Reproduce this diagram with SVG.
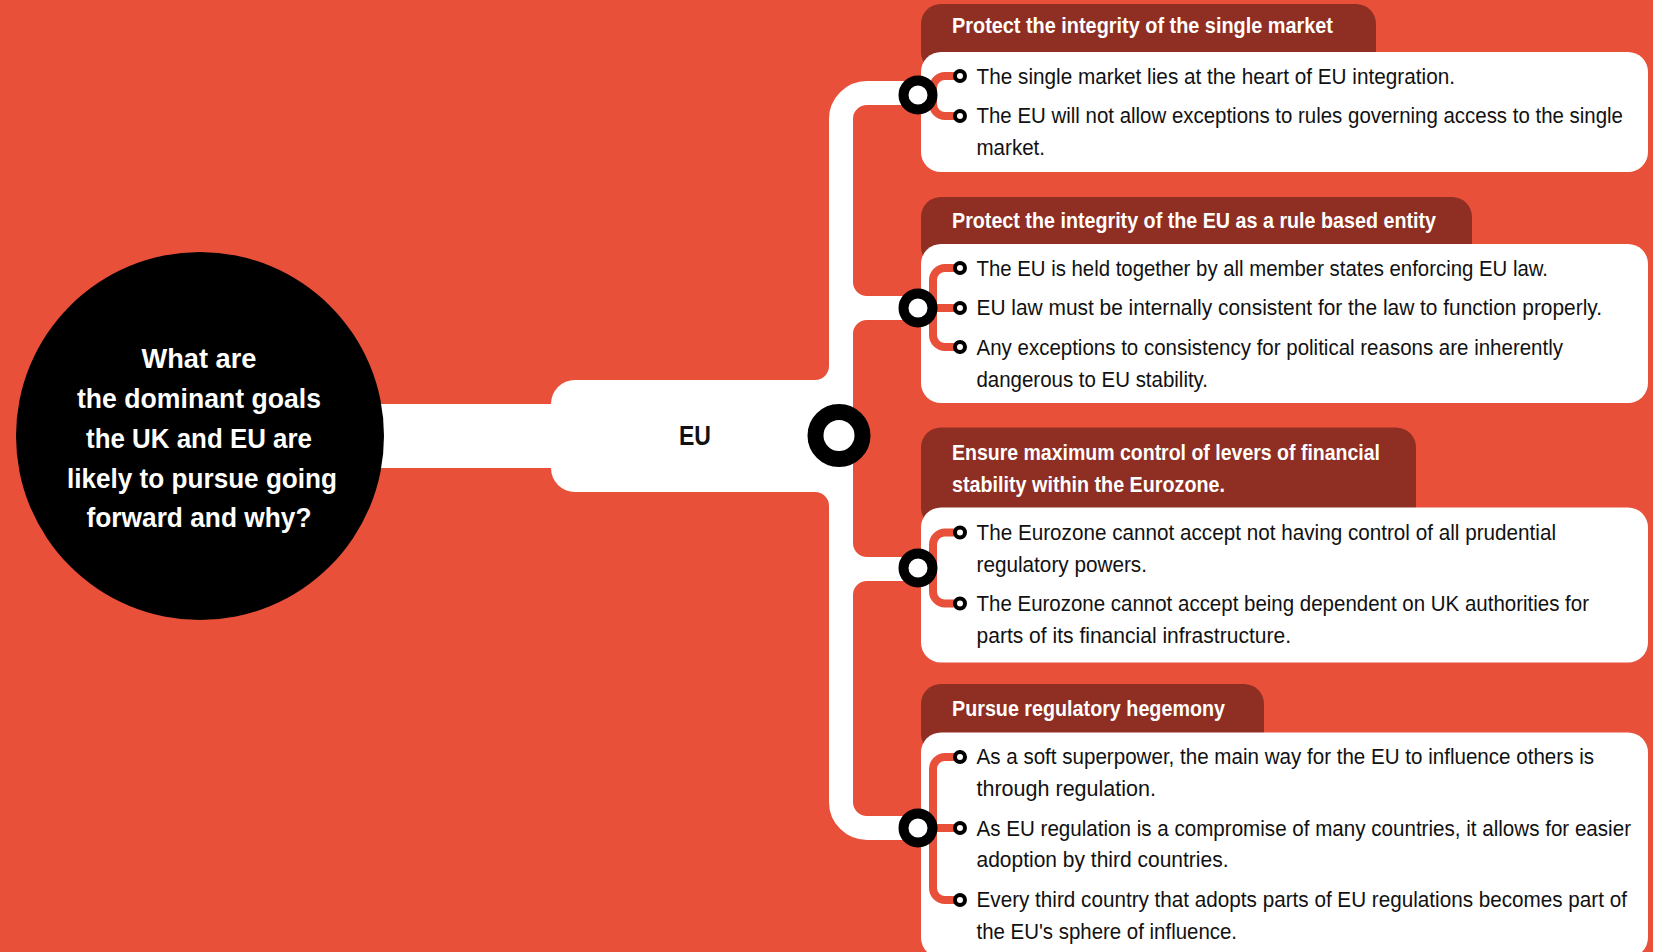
<svg xmlns="http://www.w3.org/2000/svg" width="1653" height="952" viewBox="0 0 1653 952">
  <style>
    .bg { fill: #E8503A; }
    .link { fill: none; stroke: #FFFFFF; stroke-width: 24; }
    .white { fill: #FFFFFF; }
    .head { fill: #8F2E22; }
    .card { fill: #FFFFFF; }
    .bracket { fill: none; stroke: #E8503A; stroke-width: 8; }
    .node-ring { fill: #FFFFFF; stroke: #000000; stroke-width: 10; }
    .bullet { fill: #FFFFFF; stroke: #000000; stroke-width: 4; }
    .q { font-family: "Liberation Sans Narrow", "Liberation Sans", Arial, sans-serif; font-weight: bold; font-size: 27px; fill: #FFFFFF; text-anchor: middle; }
    .eu { font-family: "Liberation Sans Narrow", "Liberation Sans", Arial, sans-serif; font-weight: bold; font-size: 28px; fill: #111111; text-anchor: middle; }
    .ht { font-family: "Liberation Sans Narrow", "Liberation Sans", Arial, sans-serif; font-weight: bold; font-size: 21.5px; fill: #FFFFFF; }
    .bt { font-family: "Liberation Sans Narrow", "Liberation Sans", Arial, sans-serif; font-size: 22.5px; fill: #111111; }
  </style>

  <rect class="bg" x="0" y="0" width="1653" height="952"/>

  <!-- white rails: question to EU, EU trunk and branches to each goal -->
  <g id="connectors">
    <rect class="white" x="330" y="404" width="240" height="64"/>
    <path class="link" d="M 918 93 H 867 A 26 26 0 0 0 841 119 V 802 A 26 26 0 0 0 867 828 H 918"/>
    <path class="link" d="M 841 258 V 282 A 26 26 0 0 0 867 308 H 918 M 841 358 V 334 A 26 26 0 0 1 867 308 H 918"/>
    <path class="link" d="M 841 519 V 543 A 26 26 0 0 0 867 569 H 918 M 841 619 V 595 A 26 26 0 0 1 867 569 H 918"/>
    <path class="white" d="M 815 380 A 14 14 0 0 0 829 366 V 380 Z"/>
    <path class="white" d="M 815 492 A 14 14 0 0 1 829 506 V 492 Z"/>
  </g>

  <!-- central question -->
  <g id="question">
    <circle cx="200" cy="436" r="184" fill="#000000"/>
    <text class="q" x="199" y="368" textLength="115" lengthAdjust="spacingAndGlyphs">What are</text>
    <text class="q" x="199" y="408" textLength="244" lengthAdjust="spacingAndGlyphs">the dominant goals</text>
    <text class="q" x="199" y="448" textLength="226" lengthAdjust="spacingAndGlyphs">the UK and EU are</text>
    <text class="q" x="202" y="488" textLength="270" lengthAdjust="spacingAndGlyphs">likely to pursue going</text>
    <text class="q" x="199" y="527" textLength="225" lengthAdjust="spacingAndGlyphs">forward and why?</text>
  </g>

  <!-- EU hub -->
  <g id="eu">
    <rect class="white" x="551" y="380" width="302" height="112" rx="24"/>
    <text class="eu" x="695" y="445" textLength="32" lengthAdjust="spacingAndGlyphs">EU</text>
    <circle cx="839" cy="435.5" r="23.5" fill="#FFFFFF" stroke="#000000" stroke-width="16"/>
  </g>

  <!-- goal 1 -->
  <g id="goal-single-market">
    <rect class="head" x="921" y="4" width="455" height="68" rx="20"/>
    <rect class="card" x="921" y="52" width="727" height="120" rx="20"/>
    <text class="ht" x="952" y="33" textLength="381" lengthAdjust="spacingAndGlyphs">Protect the integrity of the single market</text>
    <path class="bracket" d="M 960 76 H 945 A 12 12 0 0 0 933 88 V 104 A 12 12 0 0 0 945 116 H 960"/>
    <circle class="node-ring" cx="918" cy="95" r="14.5"/>
    <circle class="bullet" cx="960" cy="76" r="5"/>
    <circle class="bullet" cx="960" cy="116" r="5"/>
    <text class="bt" x="976.5" y="84" textLength="478.5" lengthAdjust="spacingAndGlyphs">The single market lies at the heart of EU integration.</text>
    <text class="bt" x="976.5" y="123" textLength="646.5" lengthAdjust="spacingAndGlyphs">The EU will not allow exceptions to rules governing access to the single</text>
    <text class="bt" x="976.5" y="155" textLength="68.5" lengthAdjust="spacingAndGlyphs">market.</text>
  </g>

  <!-- goal 2 -->
  <g id="goal-rule-based">
    <rect class="head" x="921" y="197" width="551" height="70" rx="20"/>
    <rect class="card" x="921" y="244" width="727" height="159" rx="20"/>
    <text class="ht" x="952" y="228" textLength="484" lengthAdjust="spacingAndGlyphs">Protect the integrity of the EU as a rule based entity</text>
    <path class="bracket" d="M 960 268 H 945 A 12 12 0 0 0 933 280 V 335 A 12 12 0 0 0 945 347 H 960 M 933 308 H 960"/>
    <circle class="node-ring" cx="918" cy="308" r="14.5"/>
    <circle class="bullet" cx="960" cy="268" r="5"/>
    <circle class="bullet" cx="960" cy="308" r="5"/>
    <circle class="bullet" cx="960" cy="347" r="5"/>
    <text class="bt" x="976.5" y="276" textLength="571.5" lengthAdjust="spacingAndGlyphs">The EU is held together by all member states enforcing EU law.</text>
    <text class="bt" x="976.5" y="315" textLength="625.5" lengthAdjust="spacingAndGlyphs">EU law must be internally consistent for the law to function properly.</text>
    <text class="bt" x="976.5" y="355" textLength="586.5" lengthAdjust="spacingAndGlyphs">Any exceptions to consistency for political reasons are inherently</text>
    <text class="bt" x="976.5" y="387" textLength="231.5" lengthAdjust="spacingAndGlyphs">dangerous to EU stability.</text>
  </g>

  <!-- goal 3 -->
  <g id="goal-financial-stability">
    <rect class="head" x="921" y="427.5" width="495" height="100" rx="20"/>
    <rect class="card" x="921" y="507.5" width="727" height="155" rx="20"/>
    <text class="ht" x="952" y="460" textLength="428" lengthAdjust="spacingAndGlyphs">Ensure maximum control of levers of financial</text>
    <text class="ht" x="952" y="492" textLength="273" lengthAdjust="spacingAndGlyphs">stability within the Eurozone.</text>
    <path class="bracket" d="M 960 532.5 H 945 A 12 12 0 0 0 933 544.5 V 591.5 A 12 12 0 0 0 945 603.5 H 960"/>
    <circle class="node-ring" cx="918" cy="568" r="14.5"/>
    <circle class="bullet" cx="960" cy="532.5" r="5"/>
    <circle class="bullet" cx="960" cy="603.5" r="5"/>
    <text class="bt" x="976.5" y="540" textLength="579.5" lengthAdjust="spacingAndGlyphs">The Eurozone cannot accept not having control of all prudential</text>
    <text class="bt" x="976.5" y="572" textLength="170.5" lengthAdjust="spacingAndGlyphs">regulatory powers.</text>
    <text class="bt" x="976.5" y="611" textLength="612.5" lengthAdjust="spacingAndGlyphs">The Eurozone cannot accept being dependent on UK authorities for</text>
    <text class="bt" x="976.5" y="643" textLength="314.5" lengthAdjust="spacingAndGlyphs">parts of its financial infrastructure.</text>
  </g>

  <!-- goal 4 -->
  <g id="goal-regulatory-hegemony">
    <rect class="head" x="921" y="684" width="343" height="70" rx="20"/>
    <rect class="card" x="921" y="732.5" width="727" height="225" rx="20"/>
    <text class="ht" x="952" y="716" textLength="273" lengthAdjust="spacingAndGlyphs">Pursue regulatory hegemony</text>
    <path class="bracket" d="M 960 757 H 945 A 12 12 0 0 0 933 769 V 888 A 12 12 0 0 0 945 900 H 960 M 933 828 H 960"/>
    <circle class="node-ring" cx="918" cy="828" r="14.5"/>
    <circle class="bullet" cx="960" cy="757" r="5"/>
    <circle class="bullet" cx="960" cy="828" r="5"/>
    <circle class="bullet" cx="960" cy="900" r="5"/>
    <text class="bt" x="976.5" y="764" textLength="617.5" lengthAdjust="spacingAndGlyphs">As a soft superpower, the main way for the EU to influence others is</text>
    <text class="bt" x="976.5" y="796" textLength="179.5" lengthAdjust="spacingAndGlyphs">through regulation.</text>
    <text class="bt" x="976.5" y="836" textLength="654.5" lengthAdjust="spacingAndGlyphs">As EU regulation is a compromise of many countries, it allows for easier</text>
    <text class="bt" x="976.5" y="867" textLength="252" lengthAdjust="spacingAndGlyphs">adoption by third countries.</text>
    <text class="bt" x="976.5" y="907" textLength="650.5" lengthAdjust="spacingAndGlyphs">Every third country that adopts parts of EU regulations becomes part of</text>
    <text class="bt" x="976.5" y="939" textLength="260.5" lengthAdjust="spacingAndGlyphs">the EU's sphere of influence.</text>
  </g>
</svg>
